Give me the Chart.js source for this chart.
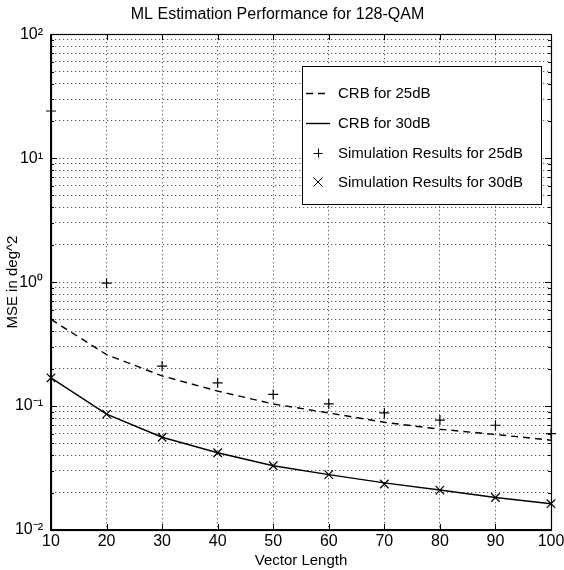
<!DOCTYPE html>
<html>
<head>
<meta charset="utf-8">
<script src="https://cdn.jsdelivr.net/npm/chart.js@4.4.1/dist/chart.umd.min.js"></script>
<style>
  html, body { margin: 0; padding: 0; background: #fff; }
  #wrap { width: 564px; height: 570px; }
</style>
</head>
<body>
<div id="wrap"><canvas id="mse-chart" width="564" height="570"></canvas></div>
<script>
const fontFamily = '"Liberation Sans Narrow", "Liberation Sans", Arial, sans-serif';

// values
const vectorLength = [10, 20, 30, 40, 50, 60, 70, 80, 90, 100];
const crb25 = [0.50, 0.26, 0.175, 0.132, 0.104, 0.088, 0.074, 0.065, 0.059, 0.053];
const crb30 = [0.169, 0.086, 0.056, 0.042, 0.033, 0.028, 0.024, 0.021, 0.0183, 0.0163];
const sim25 = [24, 0.98, 0.21, 0.154, 0.124, 0.104, 0.088, 0.077, 0.070, 0.060];
const sim30 = [0.169, 0.086, 0.056, 0.042, 0.033, 0.028, 0.0235, 0.021, 0.0183, 0.0163];

const seriesLabels = ['CRB for 25dB', 'CRB for 30dB', 'Simulation Results for 25dB', 'Simulation Results for 30dB'];
const decades = [-2, -1, 0, 1, 2];
const supers = { '-2': '\u207B\u00B2', '-1': '\u207B\u00B9', '0': '\u2070', '1': '\u00B9', '2': '\u00B2' };

function pts(ys) {
    return vectorLength.map(function(x, i) { return { x: x, y: ys[i] }; });
}

// solid frame, inward tick marks and the legend box inside the plot
const matlabBits = {
    id: 'matlabBits',
    afterDraw: function(chart) {
        const ctx = chart.ctx;
        const a = chart.chartArea;
        const xs = chart.scales.x, ys = chart.scales.y;
        ctx.save();
        ctx.strokeStyle = '#000';
        ctx.lineWidth = 1.2;
        ctx.strokeRect(Math.round(a.left) + 0.5, Math.round(a.top) + 0.5,
            Math.round(a.right - a.left), Math.round(a.bottom - a.top));
        ctx.lineWidth = 1;
        ctx.beginPath();
        vectorLength.forEach(function(v) {
            const px = Math.round(xs.getPixelForValue(v)) + 0.5;
            ctx.moveTo(px, a.bottom); ctx.lineTo(px, a.bottom - 6);
            ctx.moveTo(px, a.top); ctx.lineTo(px, a.top + 6);
        });
        ys.ticks.forEach(function(t) {
            const py = Math.round(ys.getPixelForValue(t.value)) + 0.5;
            const len = t.label ? 6 : 3;
            ctx.moveTo(a.left, py); ctx.lineTo(a.left + len, py);
            ctx.moveTo(a.right, py); ctx.lineTo(a.right - len, py);
        });
        ctx.stroke();

        // legend
        const bx = 302, by = 66, bw = 239, bh = 138;
        ctx.fillStyle = '#fff';
        ctx.fillRect(bx, by, bw, bh);
        ctx.strokeRect(bx + 0.5, by + 0.5, bw, bh);
        ctx.font = '15px ' + fontFamily;
        ctx.textBaseline = 'middle';
        ctx.fillStyle = '#000';
        const rows = [93, 123, 153, 182];
        chart.data.datasets.forEach(function(ds, i) {
            const y = rows[i];
            ctx.beginPath();
            ctx.setLineDash(ds.borderDash || []);
            if (ds.showLine !== false) {
                ctx.lineWidth = ds.borderWidth;
                ctx.moveTo(306, y + 0.5); ctx.lineTo(330, y + 0.5);
                ctx.stroke();
            } else {
                ctx.setLineDash([]);
                ctx.lineWidth = 1;
                const c = 318, r = 4.5;
                if (ds.pointStyle === 'cross') {
                    ctx.moveTo(c - r, y + 0.5); ctx.lineTo(c + r, y + 0.5);
                    ctx.moveTo(c + 0.5, y - r); ctx.lineTo(c + 0.5, y + r);
                } else {
                    ctx.moveTo(c - r, y - r); ctx.lineTo(c + r, y + r);
                    ctx.moveTo(c - r, y + r); ctx.lineTo(c + r, y - r);
                }
                ctx.stroke();
            }
            ctx.setLineDash([]);
            ctx.fillText(ds.label, 338, y + 1);
        });
        ctx.restore();
    }
};

const gridLine = {
    color: 'rgba(0,0,0,0.8)',
    lineWidth: 1,
    drawTicks: false,
    tickLength: 0
};

new Chart(document.getElementById('mse-chart'), {
    type: 'line',
    data: {
        datasets: [
            {
                label: seriesLabels[0],
                data: pts(crb25),
                borderColor: '#000',
                borderWidth: 1.4,
                borderDash: [7, 5],
                pointRadius: 0,
                tension: 0
            },
            {
                label: seriesLabels[1],
                data: pts(crb30),
                borderColor: '#000',
                borderWidth: 1.4,
                pointRadius: 0,
                tension: 0
            },
            {
                label: seriesLabels[2],
                data: pts(sim25),
                showLine: false,
                pointStyle: 'cross',
                pointRadius: 5,
                pointBorderWidth: 1.2,
                pointBorderColor: '#000',
                clip: false
            },
            {
                label: seriesLabels[3],
                data: pts(sim30),
                showLine: false,
                pointStyle: 'crossRot',
                pointRadius: 6,
                pointBorderWidth: 1.2,
                pointBorderColor: '#000',
                clip: false
            }
        ]
    },
    options: {
        responsive: false,
        animation: false,
        events: [],
        layout: {
            padding: { top: 0, right: 13, left: 4, bottom: 0 }
        },
        plugins: {
            legend: { display: false },
            tooltip: { enabled: false },
            title: {
                display: true,
                text: 'ML Estimation Performance for 128-QAM',
                color: '#000',
                font: { family: fontFamily, size: 16, weight: 'normal' },
                padding: { top: 5, bottom: 10 }
            }
        },
        scales: {
            x: {
                type: 'linear',
                min: 10,
                max: 100,
                grid: gridLine,
                border: { display: true, color: '#000', width: 1.2, dash: [1, 3] },
                afterFit: function(scale) {
                    scale.height = 40;
                    scale.paddingRight = 0;
                    scale.paddingLeft = 0;
                },
                ticks: {
                    stepSize: 10,
                    color: '#000',
                    padding: 2,
                    font: { family: fontFamily, size: 16 },
                    maxRotation: 0
                },
                title: {
                    display: true,
                    text: 'Vector Length',
                    color: '#000',
                    font: { family: fontFamily, size: 15 },
                    padding: { top: 0, bottom: 0 }
                }
            },
            y: {
                type: 'logarithmic',
                min: 0.01,
                max: 100,
                grid: gridLine,
                border: { display: true, color: '#000', width: 1.2, dash: [1, 3] },
                afterBuildTicks: function(scale) {
                    const t = [];
                    decades.forEach(function(d) {
                        for (let m = 1; m <= 9; m++) {
                            if (d === 2 && m > 1) break;
                            t.push({ value: m * Math.pow(10, d) });
                        }
                    });
                    scale.ticks = t;
                },
                afterFit: function(scale) {
                    scale.width = 47;
                },
                ticks: {
                    autoSkip: false,
                    color: '#000',
                    padding: 8,
                    font: { family: fontFamily, size: 16 },
                    callback: function(value) {
                        const d = Math.round(Math.log10(value));
                        if (Math.abs(value - Math.pow(10, d)) > 1e-9 * value) return '';
                        return '10' + supers[String(d)];
                    }
                },
                title: {
                    display: true,
                    text: 'MSE in deg^2',
                    color: '#000',
                    font: { family: fontFamily, size: 15 },
                    padding: { top: 0, bottom: 0 }
                }
            }
        }
    },
    plugins: [matlabBits]
});
</script>
</body>
</html>
